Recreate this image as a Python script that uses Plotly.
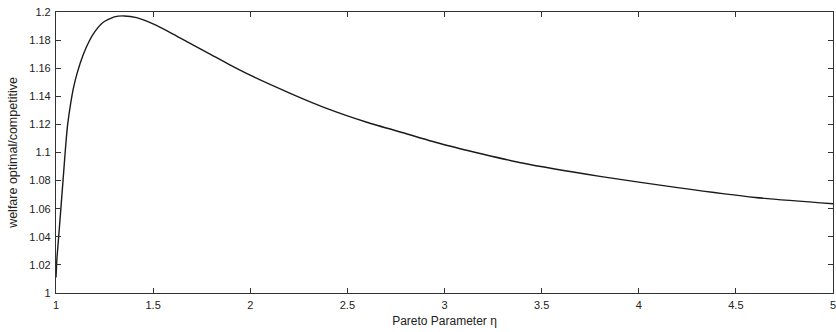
import plotly.graph_objects as go

eta = [1.0, 1.005, 1.012, 1.02, 1.03, 1.04, 1.05, 1.06, 1.075, 1.09, 1.11, 1.14, 1.17, 1.2, 1.24,
       1.3, 1.35, 1.415, 1.5, 1.6, 1.7, 1.8, 1.9, 2.0, 2.2, 2.4, 2.6, 2.8, 3.0, 3.4, 3.8, 4.2, 4.6, 5.0]
welfare_ratio = [1.011, 1.025, 1.037, 1.051, 1.069, 1.087, 1.105, 1.120, 1.1345, 1.146, 1.157, 1.1695, 1.179, 1.186, 1.1924,
                 1.1965, 1.1972, 1.196, 1.1915, 1.1845, 1.177, 1.1695, 1.162, 1.155, 1.1425, 1.131, 1.1215, 1.1135, 1.1055,
                 1.0925, 1.083, 1.075, 1.068, 1.0635]

x_ticks = [1, 1.5, 2, 2.5, 3, 3.5, 4, 4.5, 5]
x_tick_labels = ["1", "1.5", "2", "2.5", "3", "3.5", "4", "4.5", "5"]
y_ticks = [1, 1.02, 1.04, 1.06, 1.08, 1.1, 1.12, 1.14, 1.16, 1.18, 1.2]
y_tick_labels = ["1", "1.02", "1.04", "1.06", "1.08", "1.1", "1.12", "1.14", "1.16", "1.18", "1.2"]

fig = go.Figure()
fig.add_trace(go.Scatter(x=eta, y=welfare_ratio, mode="lines",
                         line=dict(color="#1a1a1a", width=1.4, shape="spline", smoothing=0.6),
                         showlegend=False, hoverinfo="skip"))

axis_common = dict(showgrid=False, zeroline=False, showline=True, linecolor="#333", linewidth=1.2,
                   mirror="ticks", ticks="inside", ticklen=5, tickwidth=1, tickcolor="#333",
                   automargin=False, ticklabeloverflow="allow", ticklabelstandoff=2,
                   tickfont=dict(family="Liberation Sans, Arial, sans-serif", size=11, color="#222"))

fig.update_layout(
    width=836, height=332,
    margin=dict(l=56, r=3, t=12, b=39),
    paper_bgcolor="white", plot_bgcolor="white",
    font=dict(family="Liberation Sans, Arial, sans-serif", color="#222"),
    xaxis=dict(range=[1, 5], tickvals=x_ticks, ticktext=x_tick_labels,
               title=dict(text="Pareto Parameter η", font=dict(size=12), standoff=6), **axis_common),
    yaxis=dict(range=[1, 1.2], tickvals=y_ticks, ticktext=y_tick_labels,
               title=dict(text="welfare optimal/competitive", font=dict(size=12.5), standoff=8), **axis_common),
)

fig.write_html("out.html", config={"displayModeBar": False},
               post_script="document.body.style.margin='0';document.body.style.overflow='hidden';")
